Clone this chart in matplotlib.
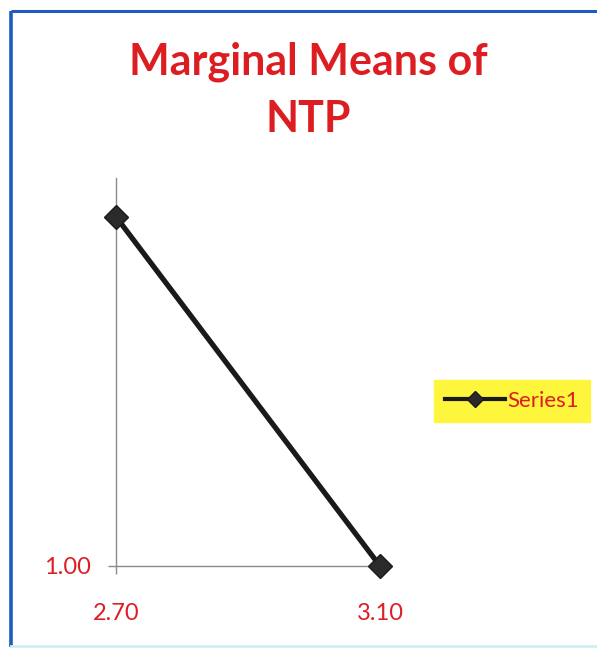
import matplotlib
matplotlib.use("Agg")
import matplotlib.pyplot as plt
from matplotlib.lines import Line2D

# Data
categories = ["2.70", "3.10"]
means = [1.09, 1.00]
series_name = "Series1"
title = "Marginal Means of\nNTP"

W, H = 597, 649
fig = plt.figure(figsize=(W / 100, H / 100), dpi=100)
fig.patch.set_facecolor("white")

red = "#dc1e23"
blue = "#1f5bbf"

# Chart frame (left, top and a faint bottom edge)
fig.add_artist(Line2D([11 / W, 11 / W], [1 - 11 / H, 1 - 647 / H], color=blue, lw=2.6,
                      transform=fig.transFigure, solid_capstyle="butt"))
fig.add_artist(Line2D([11 / W, 1.0], [1 - 11 / H, 1 - 11 / H], color=blue, lw=2.2,
                      transform=fig.transFigure, solid_capstyle="butt"))
fig.add_artist(Line2D([11 / W, 1.0], [1 - 646 / H, 1 - 646 / H], color="#cfeff5", lw=2,
                      transform=fig.transFigure))

left, right = 116 / W, 380 / W
bottom, top = 1 - 566 / H, 1 - 178 / H
ax = fig.add_axes([left, bottom, right - left, top - bottom])
ax.set_facecolor("none")

x = list(range(len(categories)))
ax.plot(x, means, color="#1a1a1a", lw=3.8, marker="D", markersize=12,
        markerfacecolor="#2a2a2a", markeredgecolor="#1a1a1a", label=series_name,
        clip_on=False, zorder=3)

ax.set_xlim(0, 1)
ax.set_ylim(1.00, 1.10)

for s in ["top", "right"]:
    ax.spines[s].set_visible(False)
for s in ["left", "bottom"]:
    ax.spines[s].set_color("#8a8a8a")
    ax.spines[s].set_linewidth(1.0)

ax.set_xticks(x)
ax.set_xticklabels(categories)
ax.set_yticks([1.00])
ax.set_yticklabels(["1.00"])
ax.tick_params(axis="both", colors="#8a8a8a", length=6, width=1.0)
ax.tick_params(axis="x", labelcolor=red, labelsize=17, pad=21)
ax.tick_params(axis="y", labelcolor=red, labelsize=17, pad=12)
for lab in ax.get_xticklabels() + ax.get_yticklabels():
    lab.set_family("Lato")

fig.text(308 / W, 1 - 90 / H, title, ha="center", va="center", color=red,
         fontsize=31, fontweight="bold", family="Lato", linespacing=1.5)

leg = fig.legend(handles=[Line2D([0], [0], color="#1a1a1a", lw=3, marker="D",
                                 markersize=8, markerfacecolor="#2a2a2a")],
                 labels=[series_name], loc="center", bbox_to_anchor=(512 / W, 1 - 401 / H),
                 frameon=True, fancybox=False, handlelength=2.7, handletextpad=0.1,
                 borderpad=0.5, prop={"family": "Lato", "size": 16})
leg.get_frame().set_facecolor("#fdf63c")
leg.get_frame().set_edgecolor("#fdf63c")
leg.get_frame().set_alpha(1)
for t in leg.get_texts():
    t.set_color(red)

fig.savefig("out.png", dpi=100, facecolor="white")
